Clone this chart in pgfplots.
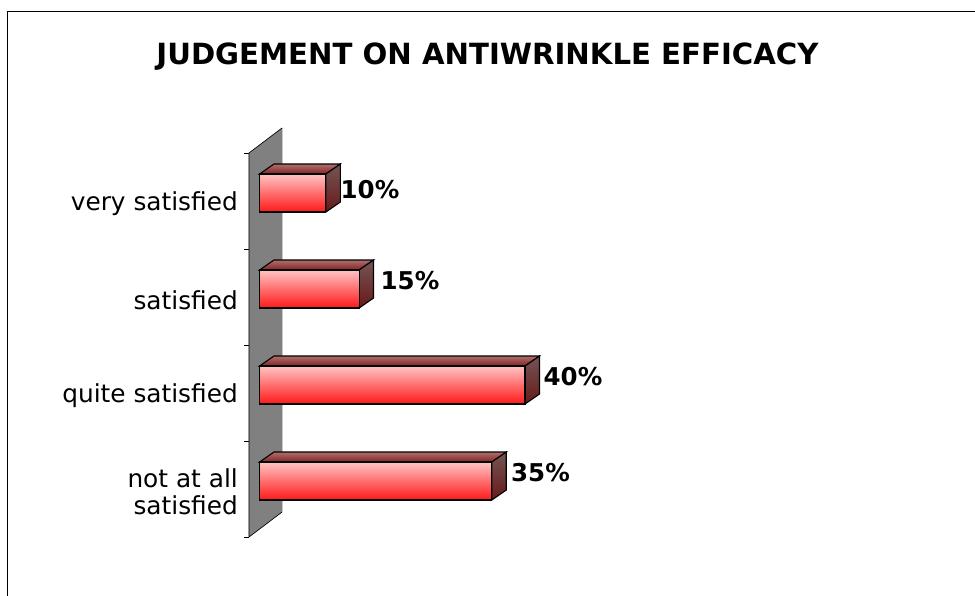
\documentclass[border=0pt]{standalone}
\usepackage{pgfplots}
\pgfplotsset{compat=1.18}
\usepackage{fontspec}
\setmainfont{DejaVu Sans}
\definecolor{frontT}{RGB}{255,195,195}
\definecolor{frontB}{RGB}{255,25,25}
\definecolor{topT}{RGB}{176,110,110}
\definecolor{topB}{RGB}{130,35,35}
\definecolor{sideT}{RGB}{115,85,85}
\definecolor{sideB}{RGB}{105,25,25}
\pgfplotsset{frontbar/.style={xbar,bar width=38pt,bar shift=8pt,draw=black,line width=1.1pt,top color=frontT,bottom color=frontB}}
\begin{document}
\begin{tikzpicture}[x=1pt,y=1pt]
\useasboundingbox (0,0) rectangle (975,596);
\draw[black,line width=1pt] (7,0) -- (7,584) -- (975,584);
\begin{axis}[
  at={(249pt,59pt)}, anchor=south west,
  x=6.6375pt, y=96pt,
  xmin=-1.582, xmax=48, ymin=-0.5, ymax=3.5,
  clip=false,
  axis x line=none,
  axis y line*=left,
  y axis line style={-,line width=0.6pt},
  ytick={0,1,2,3},
  yticklabels={{not at all\\satisfied},{quite satisfied},{satisfied},{very satisfied}},
  minor ytick={-0.5,0.5,1.5,2.5,3.5},
  major tick length=0pt, minor tick length=5pt,
  tick align=outside,
  tick style={black,line width=0.6pt},
  yticklabel style={align=right,font=\fontsize{24.8}{27}\selectfont,inner sep=0pt,xshift=-11pt,yshift=-3pt},
  title={JUDGEMENT ON ANTIWRINKLE EFFICACY},
  title style={at={(axis description cs:0.7247,1.2343)},anchor=center,font=\fontsize{29.2}{32}\selectfont\bfseries,inner sep=0pt},
]
% wall
\addplot[fill=black!50,draw=black!50,line width=0.5pt] coordinates {(-1.582,3.5) (3.39,3.76) (3.39,-0.24) (-1.582,-0.5)} --cycle;
\addplot[black,line width=0.6pt,forget plot] coordinates {(3.39,3.76) (-1.582,3.5) (-1.582,-0.5) (3.39,-0.24)};
% top faces
\addplot[draw=black,line width=1.1pt,top color=topT,bottom color=topB] coordinates {(0,0.281) (35,0.281) (37.18,0.385) (2.18,0.385)} --cycle;
\addplot[draw=black,line width=1.1pt,top color=topT,bottom color=topB] coordinates {(0,1.281) (40,1.281) (42.18,1.385) (2.18,1.385)} --cycle;
\addplot[draw=black,line width=1.1pt,top color=topT,bottom color=topB] coordinates {(0,2.281) (15,2.281) (17.18,2.385) (2.18,2.385)} --cycle;
\addplot[draw=black,line width=1.1pt,top color=topT,bottom color=topB] coordinates {(0,3.281) (10,3.281) (12.18,3.385) (2.18,3.385)} --cycle;
% side faces
\addplot[draw=black,line width=1.1pt,top color=sideT,bottom color=sideB] coordinates {(35,0.281) (37.18,0.385) (37.18,-0.011) (35,-0.115)} --cycle;
\addplot[draw=black,line width=1.1pt,top color=sideT,bottom color=sideB] coordinates {(40,1.281) (42.18,1.385) (42.18,0.989) (40,0.885)} --cycle;
\addplot[draw=black,line width=1.1pt,top color=sideT,bottom color=sideB] coordinates {(15,2.281) (17.18,2.385) (17.18,1.989) (15,1.885)} --cycle;
\addplot[draw=black,line width=1.1pt,top color=sideT,bottom color=sideB] coordinates {(10,3.281) (12.18,3.385) (12.18,2.989) (10,2.885)} --cycle;
% front faces
\addplot[frontbar] coordinates {(35,0)};
\addplot[frontbar] coordinates {(40,1)};
\addplot[frontbar] coordinates {(15,2)};
\addplot[frontbar] coordinates {(10,3)};
% value labels
\addplot[draw=none,mark=none,point meta=explicit symbolic,nodes near coords,
  nodes near coords align={center},
  every node near coord/.append style={font=\fontsize{24.5}{28}\selectfont\bfseries,anchor=center,inner sep=0pt,text=black}]
  table[meta=label] {
x y label
42.33 0.167 35\%
47.23 1.167 40\%
22.67 2.167 15\%
16.65 3.115 10\%
};
\end{axis}
\end{tikzpicture}
\end{document}
